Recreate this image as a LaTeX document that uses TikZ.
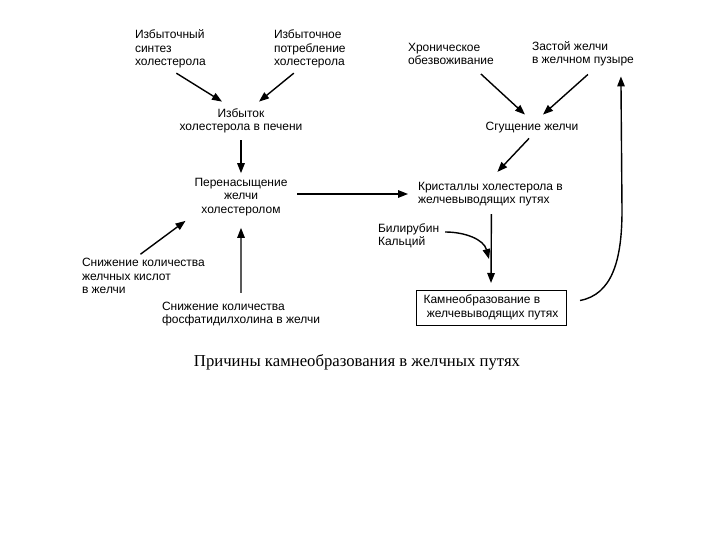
\documentclass[tikz,border=0pt]{standalone}
\usepackage{fontspec}
\setmainfont{Liberation Sans}
\newfontfamily\capfont{Liberation Serif}
\usetikzlibrary{arrows.meta,calc}
\begin{document}
\begin{tikzpicture}[x=1pt,y=-1pt,
  lbl/.style={inner sep=0pt,outer sep=0pt,font=\fontsize{12}{13.5}\selectfont},
  lbll/.style={lbl,align=left,anchor=west},
  lblc/.style={lbl,align=center},
  arr/.style={line width=1.4pt,-{Triangle[length=10pt,width=7.5pt]}},
  boxst/.style={lbl,draw,line width=0.9pt,minimum width=150pt,minimum height=35pt,align=left}]
\useasboundingbox[fill=white] (0,0) rectangle (720,540);
% nodes
\node[lbll] (s1) at (135,49) {Избыточный\\синтез\\холестерола};
\node[lbll] (s2) at (274,49) {Избыточное\\потребление\\холестерола};
\node[lblc] (izb) at (241,121) {Избыток\\холестерола в печени};
\node[lblc] (per) at (241,197) {Перенасыщение\\желчи\\холестеролом};
\node[lbll] (chron) at (408,54) {Хроническое\\обезвоживание};
\node[lbll] (zast) at (532,54) {Застой желчи\\в желчном пузыре};
\node[lblc] (sgu) at (532,128) {Сгущение желчи};
\node[lbll] (krist) at (418,194) {Кристаллы холестерола в\\желчевыводящих путях};
\node[lbll] (bil) at (378,236) {Билирубин\\Кальций};
\node[boxst] (box) at (491,307.5) {Камнеобразование в\\\ желчевыводящих путях};
\node[lbll] (sn1) at (82,276) {Снижение количества\\желчных кислот\\в желчи};
\node[lbll] (sn2) at (162,314) {Снижение количества\\фосфатидилхолина в желчи};
\node[inner sep=0pt,font=\capfont\fontsize{16.7}{18}\selectfont] (cap) at (357,362) {Причины камнеобразования в желчных путях};
% connectors
\draw[arr] ([shift={(6,5)}]s1.south) -- ([shift={(-19,-7)}]izb.north);
\draw[arr] ([shift={(-16,5)}]s2.south) -- ([shift={(18,-7)}]izb.north);
\draw[arr] ([shift={(0,7)}]izb.south) -- ([shift={(0,-5)}]per.north);
\draw[arr] ([shift={(-3,-4)}]sn1.north) -- ([shift={(-9,5)}]per.south west);
\draw[arr] ([shift={(0,-9)}]sn2.north) -- ([shift={(0,12)}]per.south);
\draw[arr] ([shift={(10,-3)}]per.east) -- ([shift={(-10,0)}]krist.west);
\draw[arr] ([shift={(30,9)}]chron.south) -- ([shift={(-7,-8)}]sgu.north);
\draw[arr] ([shift={(5,8)}]zast.south) -- ([shift={(11,-8)}]sgu.north);
\draw[arr] ([shift={(-3,5)}]sgu.south) -- ([shift={(7,-10)}]krist.north);
\draw[arr] ([shift={(1,8)}]krist.south) -- ([shift={(0,-7)}]box.north);
\coordinate (jn) at ($(box.north)+(-2,-31)$);
\draw[arr] ([shift={(6,-4)}]bil.east) to[out=0,in=105] (jn);
\draw[arr] ([shift={(14,-7)}]box.east) .. controls +(32,-6) and +(0,50) .. ++(42,-90) -- ([shift={(38,10)}]zast.south);
\end{tikzpicture}
\end{document}
